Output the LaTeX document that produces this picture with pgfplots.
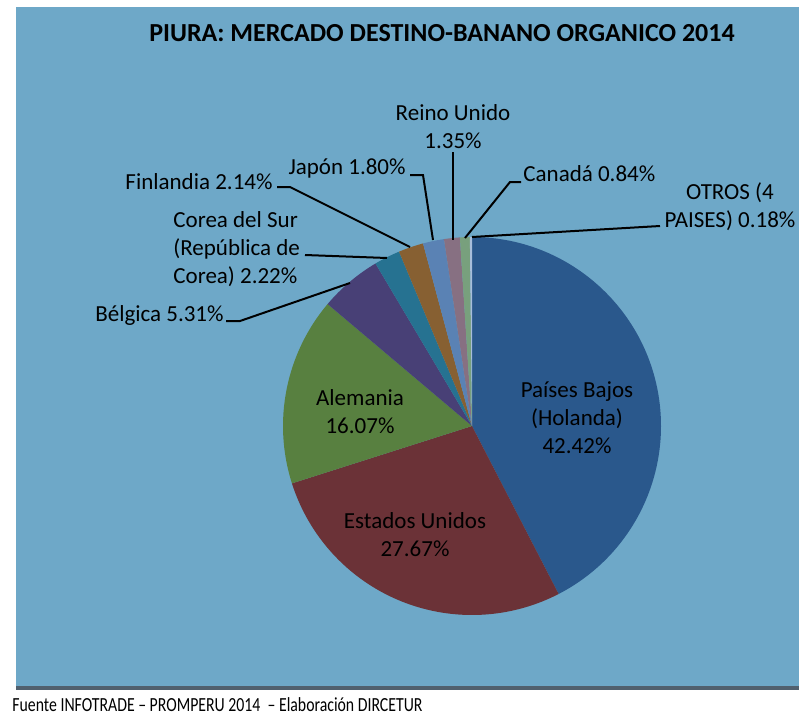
\documentclass[border=0pt]{standalone}
\usepackage{fontspec}
\setmainfont{Carlito}
\usepackage{pgfplots}
\usepackage{pgfplotstable}
\pgfplotsset{compat=1.18}

\definecolor{bgblue}{RGB}{110,168,200}
\definecolor{cPB}{RGB}{42,88,140}
\definecolor{cUS}{RGB}{107,50,55}
\definecolor{cDE}{RGB}{88,128,64}
\definecolor{cBE}{RGB}{72,64,118}
\definecolor{cKR}{RGB}{38,114,145}
\definecolor{cFI}{RGB}{135,96,50}
\definecolor{cJP}{RGB}{90,130,180}
\definecolor{cUK}{RGB}{135,112,130}
\definecolor{cCA}{RGB}{120,160,125}
\definecolor{cOT}{RGB}{168,190,219}
\definecolor{stripgray}{RGB}{80,96,110}

% share in percent, clockwise from 12 o'clock
\pgfplotstableread{
share col
42.42 cPB
27.67 cUS
16.07 cDE
5.31  cBE
2.22  cKR
2.14  cFI
1.80  cJP
1.35  cUK
0.84  cCA
0.18  cOT
}\piedata

\begin{document}
\begin{tikzpicture}
\begin{axis}[
  x=0.5pt, y=0.5pt,
  xmin=0, xmax=799, ymin=-718, ymax=0,
  hide axis, clip=false,
  disabledatascaling,
]
\pgfplotsextra{
  \path (axis cs:0,0) rectangle (axis cs:799,-718);
  \fill[bgblue] (axis cs:16,-7) rectangle (axis cs:799,-686);
  \fill[stripgray] (axis cs:16,-686) rectangle (axis cs:799,-690);
  % slices
  \def\angA{90}
  \pgfplotsforeachungrouped \i in {0,...,9}{%
    \pgfplotstablegetelem{\i}{share}\of\piedata \let\sh\pgfplotsretval
    \pgfplotstablegetelem{\i}{col}\of\piedata \let\col\pgfplotsretval
    \pgfmathsetmacro\angB{\angA-3.6*\sh}%
    \pgfmathsetmacro\px{472+189*cos(\angA)}%
    \pgfmathsetmacro\py{-426+189*sin(\angA)}%
    \fill[\col] (axis cs:472,-426) -- (axis cs:\px,\py)
      arc[start angle=\angA, end angle=\angB, radius=94.5pt] -- cycle;
    \global\let\angA\angB
  }
  % leader lines
  \draw[line width=1pt] (axis cs:226,-321) -- (axis cs:240,-321) -- (axis cs:350,-283);
  \draw[line width=1pt] (axis cs:305,-255) -- (axis cs:387,-258);
  \draw[line width=1pt] (axis cs:277,-187) -- (axis cs:290,-187) -- (axis cs:410,-247);
  \draw[line width=1pt] (axis cs:410,-175) -- (axis cs:423,-175) -- (axis cs:433,-240);
  \draw[line width=1pt] (axis cs:453,-152) -- (axis cs:453,-240);
  \draw[line width=1pt] (axis cs:521,-182) -- (axis cs:510,-182) -- (axis cs:465,-238);
  \draw[line width=1pt] (axis cs:660,-226) -- (axis cs:472,-237);
  % texts
  \node[font=\fontsize{13}{15}\selectfont\bfseries] at (axis cs:442,-33)
    {PIURA: MERCADO DESTINO-BANANO ORGANICO 2014};
  \begin{scope}[every node/.style={font=\fontsize{11.5}{14}\selectfont, inner sep=0pt}]
    \node[align=center] at (axis cs:577,-418) {Países Bajos\\(Holanda)\\42.42\%};
    \node[align=center] at (axis cs:415,-535) {Estados Unidos\\27.67\%};
    \node[align=center] at (axis cs:360,-412) {Alemania\\16.07\%};
    \node[anchor=east] at (axis cs:224,-315) {Bélgica 5.31\%};
    \node[anchor=west, align=left] at (axis cs:173,-249) {Corea del Sur\\(República de\\Corea) 2.22\%};
    \node[anchor=east] at (axis cs:273,-182) {Finlandia 2.14\%};
    \node[anchor=east] at (axis cs:406,-168) {Japón 1.80\%};
    \node[align=center] at (axis cs:453,-127) {Reino Unido\\1.35\%};
    \node[anchor=west] at (axis cs:523,-174) {Canadá 0.84\%};
    \node[align=center] at (axis cs:730,-207) {OTROS (4\\PAISES) 0.18\%};
  \end{scope}
  \node[anchor=west, inner sep=0pt, font=\fontsize{10}{12}\selectfont] at (axis cs:12,-705)
    {\scalebox{0.79}[1]{Fuente INFOTRADE -- PROMPERU 2014 \ -- Elaboración DIRCETUR}};
}
\end{axis}
\end{tikzpicture}
\end{document}
